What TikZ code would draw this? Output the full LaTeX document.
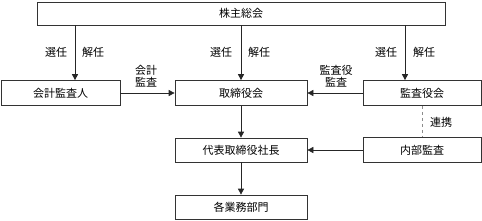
\documentclass[tikz,border=0pt]{standalone}
\usepackage{fontspec}
\setmainfont{Noto Sans CJK JP}
\usetikzlibrary{arrows.meta,calc}
\begin{document}
\begin{tikzpicture}[x=1pt,y=-1pt,
  box/.style={draw=black!80,line width=0.7pt,rectangle,inner sep=0pt,font=\fontsize{11}{13}\selectfont},
  lbl/.style={inner sep=0pt,font=\fontsize{11}{13}\selectfont,align=center},
  arr/.style={draw=black!85,line width=0.7pt,-{Triangle[length=6pt,width=6pt]}}]
\useasboundingbox (0,0) rectangle (482,220);
\node[box,minimum width=408pt,minimum height=23pt] (sh) at (241,13.5) {株主総会};
\node[box,minimum width=119pt,minimum height=25pt] (kaikei) at (60.5,93) {会計監査人};
\node[box,minimum width=132pt,minimum height=25pt] (tori) at (241,93) {取締役会};
\node[box,minimum width=118pt,minimum height=25pt] (kansa) at (422,93) {監査役会};
\node[box,minimum width=132pt,minimum height=24pt] (ceo) at (241,150) {代表取締役社長};
\node[box,minimum width=118pt,minimum height=25pt] (naibu) at (422,150) {内部監査};
\node[box,minimum width=132pt,minimum height=24pt] (gyomu) at (241,207) {各業務部門};
\draw[arr] (sh.south -| 75,0) -- (kaikei.north -| 75,0);
\draw[arr] (sh.south -| tori.north) -- (tori.north);
\draw[arr] (sh.south -| 405,0) -- (kansa.north -| 405,0);
\node[lbl] (s1) at (56,52) {選任};
\node[lbl] (k1) at (93,52) {解任};
\node[lbl] (s2) at (221,52) {選任};
\node[lbl] (k2) at (259,52) {解任};
\node[lbl] (s3) at (386,52) {選任};
\node[lbl] (k3) at (424,52) {解任};
\draw[arr] (kaikei.east) -- (tori.west);
\node[lbl] (l1) at (146,76) {会計\\[-1.5pt]監査};
\draw[arr] (kansa.west) -- (tori.east);
\node[lbl] (l2) at (336,76) {監査役\\[-1.5pt]監査};
\draw[arr] (tori.south) -- (ceo.north);
\draw[arr] (naibu.west) -- (ceo.east);
\draw[arr] (ceo.south) -- (gyomu.north);
\draw[draw=black!45,line width=0.7pt,dashed] (kansa.south) -- (naibu.north);
\node[lbl] (rk) at (441,122) {連携};
\end{tikzpicture}
\end{document}
